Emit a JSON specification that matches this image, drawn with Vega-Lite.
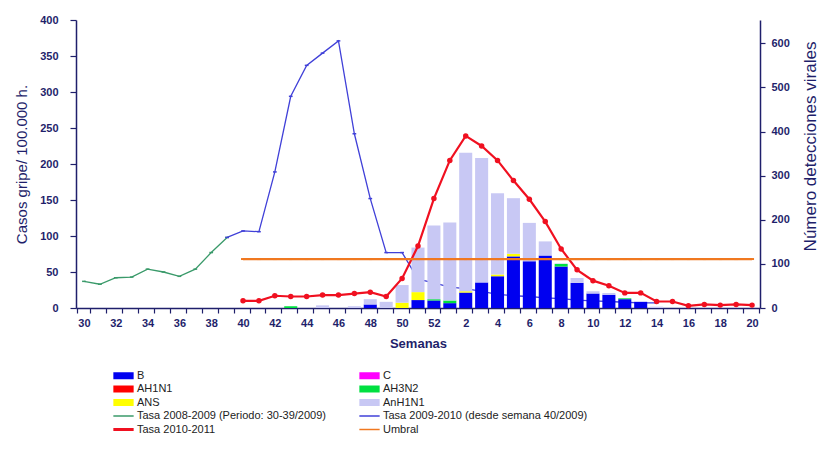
{
  "$schema": "https://vega.github.io/schema/vega-lite/v6.json",
  "width": 684,
  "height": 288,
  "autosize": {"type": "none"},
  "padding": {"left": 76, "top": 20, "right": 64, "bottom": 142},
  "background": "white",
  "config": {
    "view": {"stroke": null},
    "font": "Liberation Sans",
    "axis": {
      "grid": false,
      "labelFont": "Liberation Sans",
      "labelFontSize": 11,
      "labelFontWeight": "bold",
      "labelColor": "#1f1f6b",
      "titleFont": "Liberation Sans",
      "titleFontSize": 15,
      "titleFontWeight": "normal",
      "titleColor": "#1f1f6b",
      "domainColor": "#1f1f6b",
      "domainWidth": 1.5,
      "tickColor": "#1f1f6b",
      "tickWidth": 1.2,
      "tickSize": 5
    },
    "legend": {
      "orient": "none",
      "direction": "horizontal",
      "legendX": 42,
      "legendY": 350,
      "columns": 2,
      "columnPadding": 30,
      "rowPadding": 1.5,
      "padding": 0,
      "symbolSize": 196,
      "labelOffset": 8,
      "labelFont": "Liberation Sans",
      "labelFontSize": 11,
      "labelColor": "#222222",
      "labelLimit": 400
    }
  },
  "datasets": {
    "barras": [
      {"semana": 43, "tipo": "AH3N2", "n": 4},
      {"semana": 45, "tipo": "AnH1N1", "n": 6},
      {"semana": 47, "tipo": "AnH1N1", "n": 4},
      {"semana": 48, "tipo": "B", "n": 8},
      {"semana": 48, "tipo": "AnH1N1", "n": 12},
      {"semana": 49, "tipo": "AnH1N1", "n": 14},
      {"semana": 50, "tipo": "ANS", "n": 12},
      {"semana": 50, "tipo": "AnH1N1", "n": 40},
      {"semana": 51, "tipo": "B", "n": 18},
      {"semana": 51, "tipo": "ANS", "n": 18},
      {"semana": 51, "tipo": "AnH1N1", "n": 101},
      {"semana": 52, "tipo": "B", "n": 17},
      {"semana": 52, "tipo": "AH3N2", "n": 3},
      {"semana": 52, "tipo": "AnH1N1", "n": 167},
      {"semana": 1, "tipo": "B", "n": 11},
      {"semana": 1, "tipo": "AH3N2", "n": 6},
      {"semana": 1, "tipo": "AnH1N1", "n": 177},
      {"semana": 2, "tipo": "B", "n": 35},
      {"semana": 2, "tipo": "ANS", "n": 3},
      {"semana": 2, "tipo": "AnH1N1", "n": 314},
      {"semana": 3, "tipo": "B", "n": 58},
      {"semana": 3, "tipo": "AnH1N1", "n": 282},
      {"semana": 4, "tipo": "B", "n": 72},
      {"semana": 4, "tipo": "ANS", "n": 4},
      {"semana": 4, "tipo": "AnH1N1", "n": 184},
      {"semana": 5, "tipo": "B", "n": 117},
      {"semana": 5, "tipo": "ANS", "n": 6},
      {"semana": 5, "tipo": "AnH1N1", "n": 126},
      {"semana": 6, "tipo": "B", "n": 106},
      {"semana": 6, "tipo": "AnH1N1", "n": 87},
      {"semana": 7, "tipo": "B", "n": 119},
      {"semana": 7, "tipo": "AnH1N1", "n": 32},
      {"semana": 8, "tipo": "B", "n": 94},
      {"semana": 8, "tipo": "AH3N2", "n": 6},
      {"semana": 8, "tipo": "AnH1N1", "n": 1},
      {"semana": 9, "tipo": "B", "n": 57},
      {"semana": 9, "tipo": "AnH1N1", "n": 11},
      {"semana": 10, "tipo": "B", "n": 33},
      {"semana": 10, "tipo": "AnH1N1", "n": 5},
      {"semana": 11, "tipo": "B", "n": 30},
      {"semana": 11, "tipo": "AnH1N1", "n": 4},
      {"semana": 12, "tipo": "B", "n": 20},
      {"semana": 12, "tipo": "AH3N2", "n": 2},
      {"semana": 13, "tipo": "B", "n": 14},
      {"semana": 14, "tipo": "AnH1N1", "n": 3}
    ],
    "tasas": [
      {"semana": 30, "serie": "Tasa 2008-2009 (Periodo: 30-39/2009)", "valor": 37},
      {"semana": 31, "serie": "Tasa 2008-2009 (Periodo: 30-39/2009)", "valor": 33},
      {"semana": 32, "serie": "Tasa 2008-2009 (Periodo: 30-39/2009)", "valor": 42},
      {"semana": 33, "serie": "Tasa 2008-2009 (Periodo: 30-39/2009)", "valor": 43},
      {"semana": 34, "serie": "Tasa 2008-2009 (Periodo: 30-39/2009)", "valor": 54},
      {"semana": 35, "serie": "Tasa 2008-2009 (Periodo: 30-39/2009)", "valor": 50},
      {"semana": 36, "serie": "Tasa 2008-2009 (Periodo: 30-39/2009)", "valor": 44},
      {"semana": 37, "serie": "Tasa 2008-2009 (Periodo: 30-39/2009)", "valor": 54},
      {"semana": 38, "serie": "Tasa 2008-2009 (Periodo: 30-39/2009)", "valor": 77},
      {"semana": 39, "serie": "Tasa 2008-2009 (Periodo: 30-39/2009)", "valor": 98},
      {"semana": 39, "serie": "Tasa 2009-2010 (desde semana 40/2009)", "valor": 98},
      {"semana": 40, "serie": "Tasa 2009-2010 (desde semana 40/2009)", "valor": 107},
      {"semana": 41, "serie": "Tasa 2009-2010 (desde semana 40/2009)", "valor": 106},
      {"semana": 42, "serie": "Tasa 2009-2010 (desde semana 40/2009)", "valor": 189},
      {"semana": 43, "serie": "Tasa 2009-2010 (desde semana 40/2009)", "valor": 294},
      {"semana": 44, "serie": "Tasa 2009-2010 (desde semana 40/2009)", "valor": 337},
      {"semana": 45, "serie": "Tasa 2009-2010 (desde semana 40/2009)", "valor": 354},
      {"semana": 46, "serie": "Tasa 2009-2010 (desde semana 40/2009)", "valor": 371},
      {"semana": 47, "serie": "Tasa 2009-2010 (desde semana 40/2009)", "valor": 242},
      {"semana": 48, "serie": "Tasa 2009-2010 (desde semana 40/2009)", "valor": 152},
      {"semana": 49, "serie": "Tasa 2009-2010 (desde semana 40/2009)", "valor": 77},
      {"semana": 50, "serie": "Tasa 2009-2010 (desde semana 40/2009)", "valor": 77},
      {"semana": 51, "serie": "Tasa 2009-2010 (desde semana 40/2009)", "valor": 40},
      {"semana": 52, "serie": "Tasa 2009-2010 (desde semana 40/2009)", "valor": 35},
      {"semana": 1, "serie": "Tasa 2009-2010 (desde semana 40/2009)", "valor": 29},
      {"semana": 2, "serie": "Tasa 2009-2010 (desde semana 40/2009)", "valor": 27},
      {"semana": 3, "serie": "Tasa 2009-2010 (desde semana 40/2009)", "valor": 23},
      {"semana": 4, "serie": "Tasa 2009-2010 (desde semana 40/2009)", "valor": 19},
      {"semana": 5, "serie": "Tasa 2009-2010 (desde semana 40/2009)", "valor": 17},
      {"semana": 6, "serie": "Tasa 2009-2010 (desde semana 40/2009)", "valor": 16},
      {"semana": 7, "serie": "Tasa 2009-2010 (desde semana 40/2009)", "valor": 14},
      {"semana": 8, "serie": "Tasa 2009-2010 (desde semana 40/2009)", "valor": 13},
      {"semana": 9, "serie": "Tasa 2009-2010 (desde semana 40/2009)", "valor": 11},
      {"semana": 10, "serie": "Tasa 2009-2010 (desde semana 40/2009)", "valor": 10},
      {"semana": 11, "serie": "Tasa 2009-2010 (desde semana 40/2009)", "valor": 9},
      {"semana": 12, "serie": "Tasa 2009-2010 (desde semana 40/2009)", "valor": 8},
      {"semana": 13, "serie": "Tasa 2009-2010 (desde semana 40/2009)", "valor": 7},
      {"semana": 14, "serie": "Tasa 2009-2010 (desde semana 40/2009)", "valor": 7},
      {"semana": 40, "serie": "Tasa 2010-2011", "valor": 10},
      {"semana": 41, "serie": "Tasa 2010-2011", "valor": 10},
      {"semana": 42, "serie": "Tasa 2010-2011", "valor": 17},
      {"semana": 43, "serie": "Tasa 2010-2011", "valor": 16},
      {"semana": 44, "serie": "Tasa 2010-2011", "valor": 16},
      {"semana": 45, "serie": "Tasa 2010-2011", "valor": 18},
      {"semana": 46, "serie": "Tasa 2010-2011", "valor": 18},
      {"semana": 47, "serie": "Tasa 2010-2011", "valor": 20},
      {"semana": 48, "serie": "Tasa 2010-2011", "valor": 22},
      {"semana": 49, "serie": "Tasa 2010-2011", "valor": 16},
      {"semana": 50, "serie": "Tasa 2010-2011", "valor": 41},
      {"semana": 51, "serie": "Tasa 2010-2011", "valor": 86},
      {"semana": 52, "serie": "Tasa 2010-2011", "valor": 152},
      {"semana": 1, "serie": "Tasa 2010-2011", "valor": 205},
      {"semana": 2, "serie": "Tasa 2010-2011", "valor": 239},
      {"semana": 3, "serie": "Tasa 2010-2011", "valor": 225},
      {"semana": 4, "serie": "Tasa 2010-2011", "valor": 205},
      {"semana": 5, "serie": "Tasa 2010-2011", "valor": 177},
      {"semana": 6, "serie": "Tasa 2010-2011", "valor": 151},
      {"semana": 7, "serie": "Tasa 2010-2011", "valor": 120},
      {"semana": 8, "serie": "Tasa 2010-2011", "valor": 82},
      {"semana": 9, "serie": "Tasa 2010-2011", "valor": 53},
      {"semana": 10, "serie": "Tasa 2010-2011", "valor": 38},
      {"semana": 11, "serie": "Tasa 2010-2011", "valor": 31},
      {"semana": 12, "serie": "Tasa 2010-2011", "valor": 21},
      {"semana": 13, "serie": "Tasa 2010-2011", "valor": 21},
      {"semana": 14, "serie": "Tasa 2010-2011", "valor": 9},
      {"semana": 15, "serie": "Tasa 2010-2011", "valor": 9},
      {"semana": 16, "serie": "Tasa 2010-2011", "valor": 3},
      {"semana": 17, "serie": "Tasa 2010-2011", "valor": 5},
      {"semana": 18, "serie": "Tasa 2010-2011", "valor": 4},
      {"semana": 19, "serie": "Tasa 2010-2011", "valor": 5},
      {"semana": 20, "serie": "Tasa 2010-2011", "valor": 4},
      {"semana": 40, "serie": "Umbral", "valor": 68},
      {"semana": 41, "serie": "Umbral", "valor": 68},
      {"semana": 42, "serie": "Umbral", "valor": 68},
      {"semana": 43, "serie": "Umbral", "valor": 68},
      {"semana": 44, "serie": "Umbral", "valor": 68},
      {"semana": 45, "serie": "Umbral", "valor": 68},
      {"semana": 46, "serie": "Umbral", "valor": 68},
      {"semana": 47, "serie": "Umbral", "valor": 68},
      {"semana": 48, "serie": "Umbral", "valor": 68},
      {"semana": 49, "serie": "Umbral", "valor": 68},
      {"semana": 50, "serie": "Umbral", "valor": 68},
      {"semana": 51, "serie": "Umbral", "valor": 68},
      {"semana": 52, "serie": "Umbral", "valor": 68},
      {"semana": 1, "serie": "Umbral", "valor": 68},
      {"semana": 2, "serie": "Umbral", "valor": 68},
      {"semana": 3, "serie": "Umbral", "valor": 68},
      {"semana": 4, "serie": "Umbral", "valor": 68},
      {"semana": 5, "serie": "Umbral", "valor": 68},
      {"semana": 6, "serie": "Umbral", "valor": 68},
      {"semana": 7, "serie": "Umbral", "valor": 68},
      {"semana": 8, "serie": "Umbral", "valor": 68},
      {"semana": 9, "serie": "Umbral", "valor": 68},
      {"semana": 10, "serie": "Umbral", "valor": 68},
      {"semana": 11, "serie": "Umbral", "valor": 68},
      {"semana": 12, "serie": "Umbral", "valor": 68},
      {"semana": 13, "serie": "Umbral", "valor": 68},
      {"semana": 14, "serie": "Umbral", "valor": 68},
      {"semana": 15, "serie": "Umbral", "valor": 68},
      {"semana": 16, "serie": "Umbral", "valor": 68},
      {"semana": 17, "serie": "Umbral", "valor": 68},
      {"semana": 18, "serie": "Umbral", "valor": 68},
      {"semana": 19, "serie": "Umbral", "valor": 68},
      {"semana": 20, "serie": "Umbral", "valor": 68}
    ]
  },
  "encoding": {
    "x": {
      "field": "semana",
      "type": "ordinal",
      "scale": {
        "domain": [30, 31, 32, 33, 34, 35, 36, 37, 38, 39, 40, 41, 42, 43, 44, 45, 46, 47, 48, 49, 50, 51, 52, 1, 2, 3, 4, 5, 6, 7, 8, 9, 10, 11, 12, 13, 14, 15, 16, 17, 18, 19, 20],
        "paddingInner": 0.18,
        "paddingOuter": 0.09
      },
      "axis": {
        "title": "Semanas",
        "titleFontSize": 13,
        "titleFontWeight": "bold",
        "titlePadding": 9,
        "labelAngle": 0,
        "labelPadding": 4,
        "tickBand": "extent",
        "labelExpr": "datum.value % 2 == 0 ? datum.label : ''"
      }
    },
    "color": {
      "field": "serie",
      "type": "nominal",
      "scale": {
        "domain": ["B", "C", "AH1N1", "AH3N2", "ANS", "AnH1N1", "Tasa 2008-2009 (Periodo: 30-39/2009)", "Tasa 2009-2010 (desde semana 40/2009)", "Tasa 2010-2011", "Umbral"],
        "range": ["#0000f0", "#ff00ff", "#ff0000", "#00e040", "#ffff00", "#c8c8f4", "#3a9a6a", "#4040d8", "#f01020", "#f07820"]
      },
      "legend": {
        "title": null,
        "encode": {
          "symbols": {
            "update": {
              "shape": {"signal": "indexof(['B','C','AH1N1','AH3N2','ANS','AnH1N1'], datum.value) >= 0 ? 'M-1.45,-0.5H1.45V0.5H-1.45Z' : 'M-1.45,0H1.45'"},
              "fill": {"signal": "indexof(['B','C','AH1N1','AH3N2','ANS','AnH1N1'], datum.value) >= 0 ? scale('color', datum.value) : 'transparent'"},
              "stroke": {"signal": "scale('color', datum.value)"},
              "strokeWidth": {"signal": "indexof(['B','C','AH1N1','AH3N2','ANS','AnH1N1'], datum.value) >= 0 ? 0 : (datum.value == 'Tasa 2010-2011' ? 3 : 1.5)"},
              "opacity": {"value": 1}
            }
          }
        }
      }
    }
  },
  "layer": [
    {
      "data": {"name": "tasas"},
      "transform": [{"filter": {"field": "serie", "oneOf": ["Tasa 2008-2009 (Periodo: 30-39/2009)", "Tasa 2009-2010 (desde semana 40/2009)"]}}],
      "mark": {"type": "line", "strokeWidth": 1.3},
      "encoding": {
        "y": {
          "field": "valor",
          "type": "quantitative",
          "scale": {"domain": [0, 400], "nice": false},
          "axis": {"title": "Casos gripe/ 100.000 h.", "values": [0, 50, 100, 150, 200, 250, 300, 350, 400], "tickSize": 6, "labelPadding": 12, "titlePadding": 10}
        },
        "order": {"value": null}
      }
    },
    {
      "data": {"name": "tasas"},
      "transform": [{"filter": {"field": "serie", "oneOf": ["Tasa 2008-2009 (Periodo: 30-39/2009)", "Tasa 2009-2010 (desde semana 40/2009)"]}}],
      "mark": {"type": "point", "shape": "M-1,0H1", "filled": false, "size": 14, "strokeWidth": 1.5, "opacity": 1},
      "encoding": {
        "y": {"field": "valor", "type": "quantitative", "scale": {"domain": [0, 400], "nice": false}, "axis": null}
      }
    },
    {
      "data": {"name": "barras"},
      "transform": [
        {"calculate": "indexof(['B','C','AH1N1','AH3N2','ANS','AnH1N1'], datum.tipo)", "as": "orden"},
        {"calculate": "datum.tipo", "as": "serie"}
      ],
      "mark": {"type": "bar"},
      "encoding": {
        "y": {
          "aggregate": "sum",
          "field": "n",
          "type": "quantitative",
          "stack": "zero",
          "scale": {"domain": [0, 653], "nice": false},
          "axis": {"orient": "right", "title": "Número detecciones virales", "titleAngle": 270, "titleFontSize": 17, "titleY": 126, "values": [0, 100, 200, 300, 400, 500, 600], "labelPadding": 6, "titlePadding": 30}
        },
        "order": {"field": "orden", "type": "quantitative"}
      }
    },
    {
      "data": {"name": "tasas"},
      "transform": [{"filter": {"field": "serie", "oneOf": ["Umbral", "Tasa 2010-2011"]}}],
      "mark": {"type": "line", "strokeWidth": 2.2},
      "encoding": {
        "y": {"field": "valor", "type": "quantitative", "scale": {"domain": [0, 400], "nice": false}, "axis": null},
        "order": {"value": null}
      }
    },
    {
      "data": {"name": "tasas"},
      "transform": [{"filter": {"field": "serie", "equal": "Umbral"}}],
      "mark": {"type": "point", "shape": "M-1,0H1", "filled": false, "size": 16, "strokeWidth": 2, "opacity": 1},
      "encoding": {
        "y": {"field": "valor", "type": "quantitative", "scale": {"domain": [0, 400], "nice": false}, "axis": null}
      }
    },
    {
      "data": {"name": "tasas"},
      "transform": [{"filter": {"field": "serie", "equal": "Tasa 2010-2011"}}],
      "mark": {"type": "point", "shape": "circle", "filled": true, "size": 30, "opacity": 1},
      "encoding": {
        "y": {"field": "valor", "type": "quantitative", "scale": {"domain": [0, 400], "nice": false}, "axis": null}
      }
    }
  ],
  "resolve": {"scale": {"y": "independent"}}
}
